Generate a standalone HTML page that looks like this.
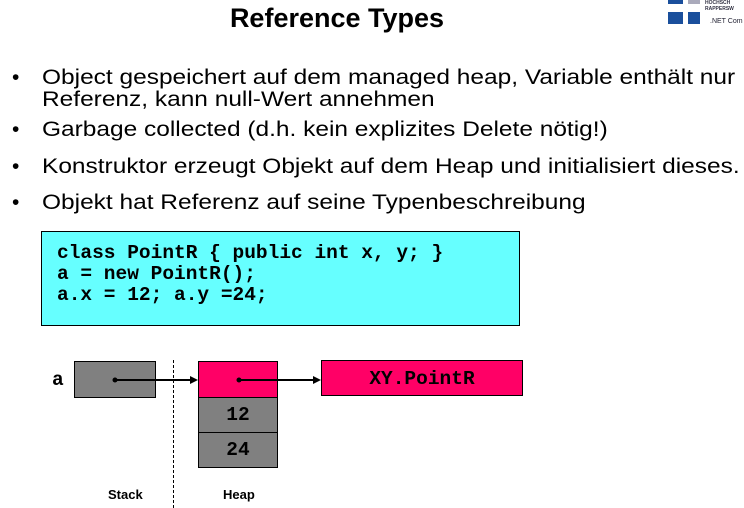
<!DOCTYPE html>
<html><head><meta charset="utf-8"><style>
body{margin:0;width:744px;height:508px;background:#fff;position:relative;overflow:hidden;font-family:"Liberation Sans",sans-serif;}
.a{position:absolute;white-space:nowrap;}
.t{font-size:21px;color:#000;line-height:22px;}
.s{transform:scaleX(1.165);transform-origin:0 0;}
.code{font-family:"Liberation Mono",monospace;font-weight:bold;font-size:19.5px;}
.box{position:absolute;border:1px solid #000;box-sizing:border-box;}
.m{font-family:"Liberation Mono",monospace;font-weight:bold;font-size:19.5px;text-align:center;}
</style></head><body>
<div class="a" style="left:0;width:674px;top:3px;text-align:center;font-weight:bold;font-size:27px;">Reference Types</div>
<div class="a" style="left:668px;top:0;width:15px;height:4px;background:#1a4f9c"></div>
<div class="a" style="left:688px;top:0;width:12px;height:4px;background:#aab"></div>
<div class="a" style="left:668px;top:12px;width:15px;height:12px;background:#1a4f9c"></div>
<div class="a" style="left:688px;top:12px;width:12px;height:12px;background:#1a4f9c"></div>
<div class="a" style="left:705px;top:0;font-size:5px;font-weight:bold;color:#334">HOCHSCH<br>RAPPERSW</div>
<div class="a" style="left:710px;top:18px;font-size:7px;color:#223">.NET Com</div>

<div class="a t" style="left:12px;top:67px">•</div>
<div class="a t s" style="left:42px;top:67px">Object gespeichert auf dem managed heap, Variable enthält nur</div>
<div class="a t s" style="left:42px;top:89px">Referenz, kann null-Wert annehmen</div>
<div class="a t" style="left:12px;top:119px">•</div>
<div class="a t s" style="left:42px;top:119px">Garbage collected (d.h. kein explizites Delete nötig!)</div>
<div class="a t" style="left:12px;top:156px">•</div>
<div class="a t s" style="left:42px;top:156px">Konstruktor erzeugt Objekt auf dem Heap und initialisiert dieses.</div>
<div class="a t" style="left:12px;top:192px">•</div>
<div class="a t s" style="left:42px;top:192px">Objekt hat Referenz auf seine Typenbeschreibung</div>

<div class="box" style="left:41px;top:231px;width:479px;height:95px;background:#66ffff"></div>
<div class="a code" style="left:57px;top:242px">class PointR { public int x, y; }</div>
<div class="a code" style="left:57px;top:263px">a = new PointR();</div>
<div class="a code" style="left:57px;top:284px">a.x = 12; a.y =24;</div>

<div class="a m" style="left:52px;top:369px">a</div>
<div class="box" style="left:74px;top:361px;width:82px;height:37px;background:#808080"></div>
<div class="box" style="left:198px;top:361px;width:80px;height:37px;background:#ff0066"></div>
<div class="box m" style="left:198px;top:397px;width:80px;height:36px;background:#808080;line-height:34px">12</div>
<div class="box m" style="left:198px;top:432px;width:80px;height:36px;background:#808080;line-height:34px">24</div>
<div class="box m" style="left:321px;top:360px;width:202px;height:36px;background:#ff0066;line-height:36px">XY.PointR</div>
<div class="a" style="left:173px;top:360px;height:148px;border-left:1px dashed #000"></div>
<svg class="a" style="left:0;top:0" width="744" height="508">
<circle cx="115" cy="380" r="2.5"/><line x1="115" y1="380" x2="196" y2="380" stroke="#000" stroke-width="2"/>
<polygon points="198,380 190,376 190,384"/>
<circle cx="239" cy="380" r="2.5"/><line x1="239" y1="380" x2="318" y2="380" stroke="#000" stroke-width="2"/>
<polygon points="321,380 313,376 313,384"/>
</svg>
<div class="a" style="left:108px;top:487px;font-weight:bold;font-size:13px">Stack</div>
<div class="a" style="left:223px;top:487px;font-weight:bold;font-size:13px">Heap</div>
</body></html>
